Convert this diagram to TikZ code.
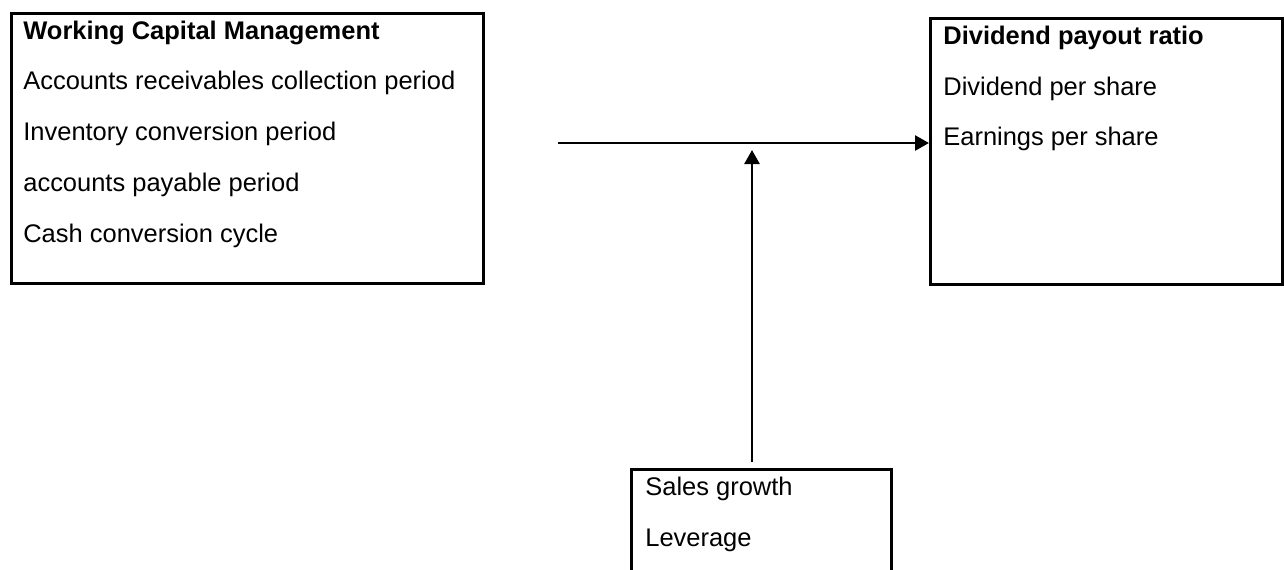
\documentclass[tikz,border=0pt]{standalone}
\usepackage{fontspec}
\setmainfont{Liberation Sans}
\usetikzlibrary{arrows.meta,positioning}
\newcommand{\labelfont}{\fontsize{14.5pt}{17pt}\selectfont}

\begin{document}
\begin{tikzpicture}[x=0.02cm,y=-0.02cm]
  \clip (0,0) rectangle (1284,569);
  % boxes
  \begin{scope}[every node/.style={rectangle,draw,line width=1.6pt,anchor=north west,inner sep=0pt}]
    \node[minimum width=9.44cm,minimum height=5.4cm] (wcm) at (10,12) {};
    \node[minimum width=7.04cm,minimum height=5.32cm] (dpr) at (929,17) {};
    \node[minimum width=5.2cm,minimum height=3cm] (ctrl) at (630,468) {};
  \end{scope}

  % texts
  \begin{scope}[every node/.style={anchor=base west,inner sep=0pt,font=\labelfont}]
    \node (wcm-0) at (23,39) {\bfseries Working Capital Management};
    \foreach \t [count=\i] in {Accounts receivables collection period,
        Inventory conversion period,accounts payable period,Cash conversion cycle}
      \node (wcm-\i) at (23,39+50.75*\i) {\t};
    \node (dpr-0) at (943,44) {\bfseries Dividend payout ratio};
    \node (dpr-1) at (943,95) {Dividend per share};
    \node (dpr-2) at (943,145) {Earnings per share};
    \node (ctrl-1) at (645,495) {Sales growth};
    \node (ctrl-2) at (645,546) {Leverage};
  \end{scope}

  % connectors
  \coordinate (wcm-out) at (558,143);
  \coordinate (ctrl-out) at (752,462);
  \coordinate (join) at (752,150);
  \begin{scope}[>={Triangle[length=0.28cm,width=0.3cm]},line width=1.5pt]
    \draw[->] (wcm-out) -- (wcm-out -| dpr.west);
    \draw[->] (ctrl-out) -- (join);
  \end{scope}
\end{tikzpicture}
\end{document}
